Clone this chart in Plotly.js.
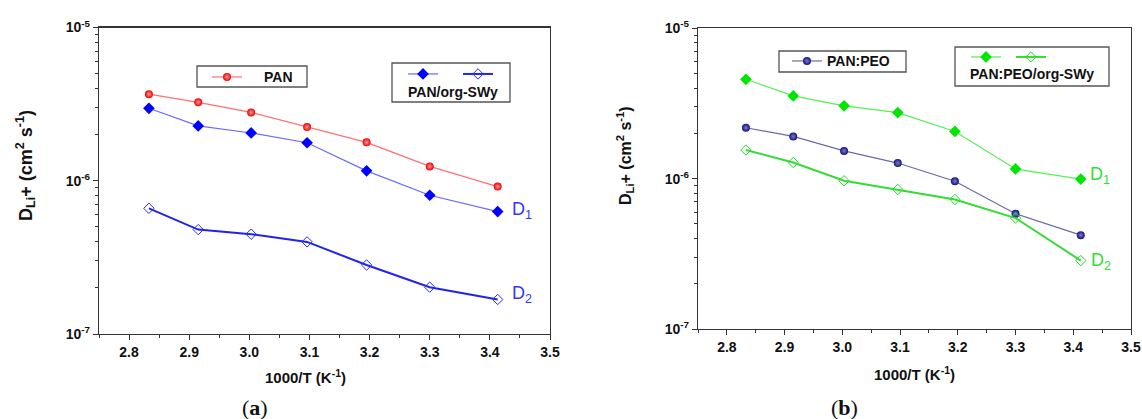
<!DOCTYPE html>
<html><head><meta charset="utf-8">
<script src="https://cdn.plot.ly/plotly-3.0.1.min.js"></script>
<style>html,body{margin:0;padding:0;background:#fff}</style>
</head><body>
<div id="chart" style="width:1142px;height:419px"></div>
<script>
// 1000/T (K^-1)
const invT = [2.833, 2.915, 3.003, 3.096, 3.195, 3.300, 3.413];
// panel (a)
const panD      = [3.67e-6, 3.25e-6, 2.79e-6, 2.24e-6, 1.78e-6, 1.24e-6, 9.16e-7];
const panSwyD1  = [2.97e-6, 2.28e-6, 2.05e-6, 1.77e-6, 1.16e-6, 8.04e-7, 6.29e-7];
const panSwyD2  = [6.61e-7, 4.80e-7, 4.48e-7, 3.99e-7, 2.82e-7, 2.02e-7, 1.68e-7];
// panel (b)
const panPeoD     = [2.18e-6, 1.91e-6, 1.53e-6, 1.27e-6, 9.62e-7, 5.84e-7, 4.21e-7];
const panPeoSwyD1 = [4.58e-6, 3.55e-6, 3.05e-6, 2.75e-6, 2.06e-6, 1.16e-6, 9.93e-7];
const panPeoSwyD2 = [1.55e-6, 1.28e-6, 9.68e-7, 8.47e-7, 7.27e-7, 5.47e-7, 2.85e-7];
// tick labels
const yTickVals = [1e-7, 1e-6, 1e-5];
const yTickText = ['10<sup>-7</sup>', '10<sup>-6</sup>', '10<sup>-5</sup>'];
const yMinorVals = [];
[1e-7, 1e-6].forEach(d => { for (let k = 2; k <= 9; k++) yMinorVals.push(k * d); });

const W = 1142, H = 419;
const px = x => x / W, py = y => 1 - y / H;
const SANS = 'Liberation Sans, Arial, sans-serif';

const traces = [
  {x: invT, y: panD, xaxis:'x', yaxis:'y', mode:'lines+markers', name:'', legend:'legend',
   line:{color:'#ff7070', width:1.2},
   marker:{symbol:'circle', size:8, color:'#ee0000', gradient:{type:'radial', color:'#ff9a9a'}}},
  {x: invT, y: panSwyD1, xaxis:'x', yaxis:'y', mode:'lines+markers', name:'', legend:'legend2',
   line:{color:'#6a6aff', width:1.2},
   marker:{symbol:'diamond', size:9, color:'#0000ff'}},
  {x: invT, y: panSwyD2, xaxis:'x', yaxis:'y', mode:'lines+markers', name:'', legend:'legend2',
   line:{color:'#2222ee', width:2},
   marker:{symbol:'diamond-open', size:8, color:'#2a2aff', line:{width:1}}},
  {x: invT, y: panPeoSwyD1, xaxis:'x2', yaxis:'y2', mode:'lines+markers', name:'', legend:'legend4',
   line:{color:'#55ee55', width:1.2},
   marker:{symbol:'diamond', size:9, color:'#00e600'}},
  {x: invT, y: panPeoD, xaxis:'x2', yaxis:'y2', mode:'lines+markers', name:'', legend:'legend3',
   line:{color:'#6a6aaa', width:1.2},
   marker:{symbol:'circle', size:8, color:'#14147a', gradient:{type:'radial', color:'#7a7ad0'}}},
  {x: invT, y: panPeoSwyD2, xaxis:'x2', yaxis:'y2', mode:'lines+markers', name:'', legend:'legend4',
   line:{color:'#33dd33', width:2},
   marker:{symbol:'diamond-open', size:8, color:'#22dd22', line:{width:1}}}
];

function xAx(domain, anchor){
  return {domain, anchor, range:[2.75, 3.5], tick0:2.8, dtick:0.1, tickformat:'.1f',
    showline:true, mirror:true, linecolor:'#333', linewidth:1.2, showgrid:false, zeroline:false,
    ticks:'outside', ticklen:5, tickwidth:1, tickcolor:'#333',
    minor:{ticks:'outside', dtick:0.05, ticklen:3, tickcolor:'#333', showgrid:false},
    tickfont:{family:SANS, size:14, color:'#111', weight:'bold'}};
}
function yAx(domain, anchor){
  return {domain, anchor, type:'log', range:[-7, -5], tickmode:'array', tickvals:yTickVals, ticktext:yTickText,
    showline:true, mirror:true, linecolor:'#333', linewidth:1.2, showgrid:false, zeroline:false,
    ticks:'outside', ticklen:5, tickwidth:1, tickcolor:'#333',
    minor:{ticks:'outside', tickmode:'array', tickvals:yMinorVals, ticklen:3, tickcolor:'#333', showgrid:false},
    tickfont:{family:SANS, size:14, color:'#111', weight:'bold'}};
}

const legBase = {bgcolor:'rgba(0,0,0,0)', borderwidth:0, font:{family:SANS, size:13}, xanchor:'left', yanchor:'middle', tracegroupgap:0};

const boxes = [[197,66,307,87],[392,63,510,102],[779,51,906,72],[955,47,1109,86]];
const shapes = boxes.map(b => ({type:'rect', xref:'paper', yref:'paper',
  x0:px(b[0]), x1:px(b[2]), y0:py(b[3]), y1:py(b[1]), line:{color:'#555', width:1.3}}));

function ann(text, x, y, opts){
  return Object.assign({text, x:px(x), y:py(y), xref:'paper', yref:'paper', showarrow:false,
    xanchor:'center', yanchor:'middle', font:{family:SANS, size:14, color:'#111', weight:'bold'}}, opts||{});
}
const annotations = [
  ann('PAN', 262, 77, {xanchor:'left'}),
  ann('PAN/org-SWy', 453, 92),
  ann('PAN:PEO', 825, 61, {xanchor:'left'}),
  ann('PAN:PEO/org-SWy', 1032, 74),
  ann('D<sub>1</sub>', 510, 210, {xanchor:'left', font:{family:SANS, size:18, color:'#3535ff'}}),
  ann('D<sub>2</sub>', 510, 294, {xanchor:'left', font:{family:SANS, size:18, color:'#3535ff'}}),
  ann('D<sub>1</sub>', 1088, 175, {xanchor:'left', font:{family:SANS, size:18, color:'#33dd33'}}),
  ann('D<sub>2</sub>', 1089, 261, {xanchor:'left', font:{family:SANS, size:18, color:'#33dd33'}}),
  ann('D<sub>Li</sub>+ (cm<sup>2</sup> s<sup>-1</sup>)', 25, 166, {textangle:-90, font:{family:SANS, size:18, color:'#111', weight:'bold'}}),
  ann('D<sub>Li</sub>+ (cm<sup>2</sup> s<sup>-1</sup>)', 625, 156, {textangle:-90, font:{family:SANS, size:16, color:'#111', weight:'bold'}}),
  ann('1000/T (K<sup>-1</sup>)', 305, 376, {font:{family:SANS, size:15, color:'#111', weight:'bold'}}),
  ann('1000/T (K<sup>-1</sup>)', 914, 373, {font:{family:SANS, size:15, color:'#111', weight:'bold'}}),
  ann('(<b>a</b>)', 255, 407, {font:{family:'Liberation Serif, DejaVu Serif, serif', size:22, color:'#111'}}),
  ann('(<b>b</b>)', 844, 407, {font:{family:'Liberation Serif, DejaVu Serif, serif', size:22, color:'#111'}})
];

const layout = {
  width:W, height:H, margin:{l:0, r:0, t:0, b:0}, paper_bgcolor:'#fff', plot_bgcolor:'#fff',
  showlegend:true,
  xaxis: xAx([px(99), px(550)], 'y'),
  yaxis: yAx([py(334), py(27.5)], 'x'),
  xaxis2: xAx([px(698), px(1131)], 'y2'),
  yaxis2: yAx([py(329), py(28.3)], 'x2'),
  legend: Object.assign({}, legBase, {x:px(207), y:py(77)}),
  legend2: Object.assign({}, legBase, {x:px(403), y:py(74), orientation:'h', entrywidth:10}),
  legend3: Object.assign({}, legBase, {x:px(787), y:py(61)}),
  legend4: Object.assign({}, legBase, {x:px(966), y:py(57), orientation:'h'}),
  shapes, annotations
};

Plotly.newPlot('chart', traces, layout, {displayModeBar:false, staticPlot:true});
</script>
</body></html>
